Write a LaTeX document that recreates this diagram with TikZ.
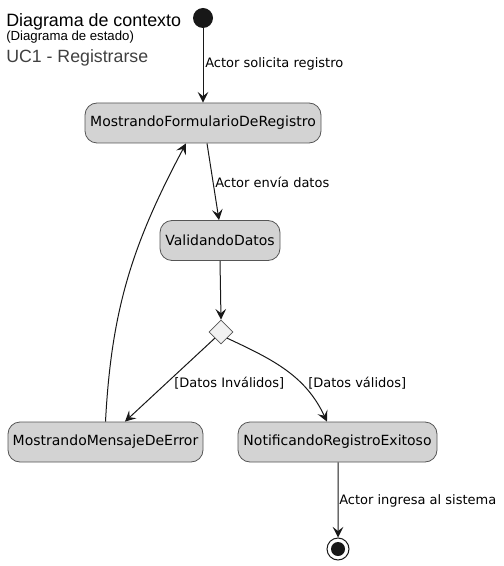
\documentclass[tikz,border=0pt]{standalone}
\usepackage{fontspec}
\setmainfont{DejaVu Sans}
\newfontfamily\titulofont{Liberation Sans}
\usetikzlibrary{arrows.meta, shapes.geometric}
\definecolor{grisestado}{RGB}{211,211,211}
\definecolor{bordeestado}{RGB}{85,85,85}
\definecolor{grisrombo}{RGB}{241,241,241}
\definecolor{lineaoscura}{RGB}{24,24,24}
\definecolor{grissub}{RGB}{64,64,64}

\begin{document}
\begin{tikzpicture}[x=0.75pt, y=-0.75pt,
  estado/.style={draw=bordeestado, line width=0.6pt, fill=grisestado, rounded corners=9pt, minimum height=30pt, inner sep=0pt, font=\fontsize{10.5}{12}\selectfont},
  etiqueta/.style={anchor=west, inner sep=0pt, font=\fontsize{9.75}{12}\selectfont},
  flecha/.style={draw=lineaoscura, line width=0.75pt, -{Stealth[length=8pt, width=8pt, inset=3.2pt]}}]
\useasboundingbox (0,0) rectangle (503,566);
\node[anchor=base west, inner sep=0pt, font=\titulofont\fontsize{13.4}{15}\selectfont] (titulo) at (6,27) {Diagrama de contexto};
\node[anchor=base west, inner sep=0pt, font=\titulofont\fontsize{9.9}{11}\selectfont] (subtitulo) at (6,41) {(Diagrama de estado)};
\node[anchor=base west, inner sep=0pt, text=grissub, font=\titulofont\fontsize{13.3}{15}\selectfont] (caso) at (6,63) {UC1 - Registrarse};
\node[circle, fill=lineaoscura, minimum size=15pt, inner sep=0pt] (inicio) at (203,18) {};
\node[estado, minimum width=177pt] (formulario) at (203,123) {MostrandoFormularioDeRegistro};
\node[estado, minimum width=90pt] (validando) at (220,240.5) {ValidandoDatos};
\node[diamond, draw=bordeestado, line width=0.6pt, fill=grisrombo, minimum size=18pt, inner sep=0pt] (decision) at (221,332) {};
\node[estado, minimum width=146.25pt] (error) at (105.5,442) {MostrandoMensajeDeError};
\node[estado, minimum width=149.25pt] (exito) at (337.5,442) {NotificandoRegistroExitoso};
\node[circle, draw=lineaoscura, line width=0.75pt, fill=white, minimum size=16.5pt, inner sep=0pt] (fin) at (338,549) {};
\node[circle, fill=lineaoscura, minimum size=10.5pt, inner sep=0pt] (finpunto) at (fin) {};
\node[etiqueta] (lblsolicita) at (205,64) {Actor solicita registro};
\node[etiqueta] (lblenvia) at (215,182) {Actor envía datos};
\node[etiqueta] (lblinvalidos) at (174,383) {[Datos Inválidos]};
\node[etiqueta] (lblvalidos) at (308,383) {[Datos válidos]};
\node[etiqueta] (lblingresa) at (339,501) {Actor ingresa al sistema};
\draw[flecha] (inicio) -- (formulario.north);
\draw[flecha] ([xshift=3pt]formulario.south) -- ([xshift=-0.75pt]validando.north);
\draw[flecha] (validando.south) -- (decision.north);
\draw[flecha] (decision.south west) -- ([xshift=14.6pt]error.north);
\draw[flecha] (decision.south east) to[out=-25, in=115] ([xshift=-7.9pt]exito.north);
\draw[flecha] (error.north) to[out=87, in=-118] ([xshift=-12.75pt]formulario.south);
\draw[flecha] ([xshift=0.4pt]exito.south) -- (fin);
\end{tikzpicture}
\end{document}
